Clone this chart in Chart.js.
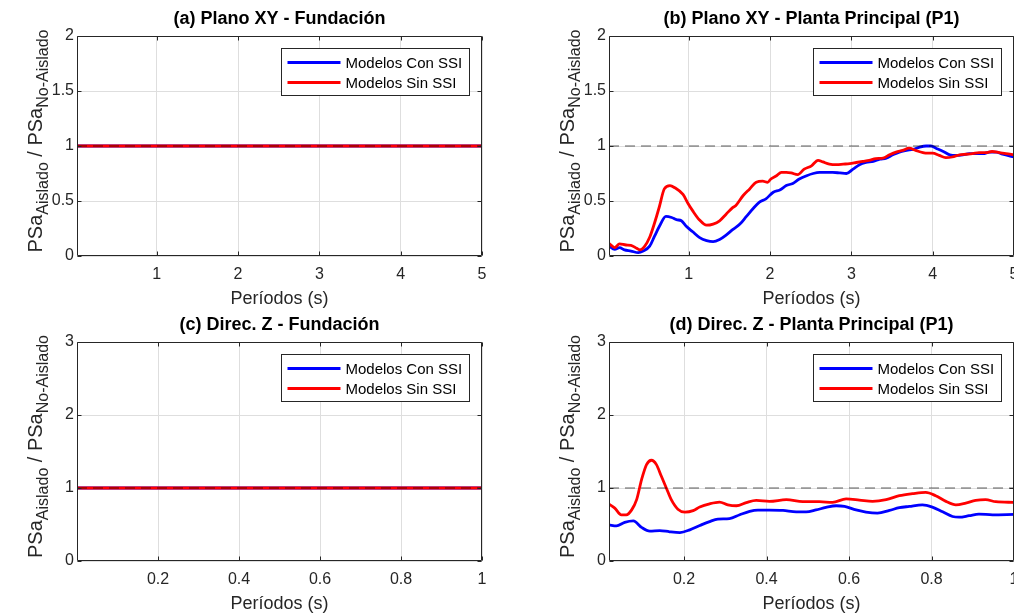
<!DOCTYPE html>
<html>
<head>
<meta charset="utf-8">
<script src="https://cdn.jsdelivr.net/npm/chart.js@4.4.0/dist/chart.umd.min.js"></script>
<style>
html,body{margin:0;padding:0;background:#fff;overflow:hidden;width:1014px;height:613px;position:relative;}
.p{position:absolute;}
canvas{display:block;}
</style>
</head>
<body>
<div class="p" style="left:0;top:0"><canvas id="ca" width="507" height="310"></canvas></div>
<div class="p" style="left:532px;top:0"><canvas id="cb" width="507" height="310"></canvas></div>
<div class="p" style="left:0;top:306px"><canvas id="cc" width="507" height="309"></canvas></div>
<div class="p" style="left:532px;top:306px"><canvas id="cd" width="507" height="309"></canvas></div>
<script>
// ---------------- DATA ----------------
const SERIES_LABELS = ['Modelos Con SSI', 'Modelos Sin SSI'];
const PANEL_TITLES = ['(a) Plano XY - Fundación', '(b) Plano XY - Planta Principal (P1)',
                      '(c) Direc. Z - Fundación', '(d) Direc. Z - Planta Principal (P1)'];
const X_TITLE = 'Períodos (s)';
const Y_TITLE_PARTS = ['PSa', 'Aislado', ' / ', 'PSa', 'No-Aislado'];
const X_TICKS_XY = [1, 2, 3, 4, 5];
const X_TICKS_Z = [0.2, 0.4, 0.6, 0.8, 1];
const Y_TICKS_XY = [0, 0.5, 1, 1.5, 2];
const Y_TICKS_Z = [0, 1, 2, 3];
const REF_RATIO = 1;

// (a) Plano XY - Fundación
const periodosA = [0.02, 5];
const conA = [1, 1];
const sinA = [1, 1];

// (b) Plano XY - Planta Principal (P1)
const periodosConB = [0.02,0.09,0.15,0.21,0.29,0.38,0.44,0.52,0.58,0.64,0.72,0.79,0.85,0.91,0.97,1.05,1.13,1.22,1.30,1.38,1.46,1.54,1.63,1.71,1.79,1.87,1.95,2.04,2.12,2.20,2.28,2.36,2.45,2.53,2.61,2.69,2.77,2.86,2.94,3.02,3.10,3.18,3.27,3.35,3.43,3.51,3.59,3.68,3.76,3.84,3.92,3.98,4.04,4.13,4.21,4.29,4.37,4.45,4.53,4.62,4.70,4.78,4.86,5.00];
const conB = [0.09,0.06,0.076,0.055,0.045,0.03,0.045,0.09,0.18,0.27,0.36,0.35,0.33,0.32,0.27,0.22,0.17,0.14,0.13,0.15,0.19,0.24,0.29,0.36,0.43,0.49,0.52,0.58,0.60,0.64,0.66,0.70,0.73,0.75,0.76,0.76,0.76,0.755,0.75,0.79,0.83,0.85,0.86,0.88,0.89,0.92,0.945,0.96,0.97,0.99,1.0,1.0,0.98,0.95,0.92,0.915,0.92,0.93,0.93,0.93,0.945,0.945,0.925,0.90];
const periodosSinB = [0.02,0.09,0.15,0.23,0.29,0.36,0.40,0.46,0.52,0.58,0.64,0.70,0.77,0.83,0.93,0.99,1.05,1.13,1.22,1.30,1.38,1.46,1.54,1.58,1.67,1.75,1.83,1.91,1.97,2.01,2.08,2.14,2.20,2.26,2.34,2.42,2.51,2.59,2.65,2.73,2.82,2.90,2.98,3.06,3.14,3.22,3.30,3.39,3.47,3.55,3.63,3.71,3.79,3.88,3.94,4.00,4.08,4.16,4.24,4.33,4.41,4.49,4.57,4.65,4.73,4.82,4.90,5.00];
const sinB = [0.115,0.076,0.11,0.10,0.097,0.07,0.055,0.09,0.17,0.30,0.45,0.61,0.64,0.62,0.56,0.48,0.41,0.33,0.28,0.29,0.32,0.38,0.44,0.46,0.55,0.61,0.67,0.68,0.67,0.70,0.73,0.76,0.76,0.755,0.74,0.79,0.82,0.87,0.855,0.835,0.83,0.835,0.84,0.85,0.86,0.87,0.885,0.89,0.92,0.945,0.96,0.98,0.96,0.94,0.935,0.935,0.915,0.895,0.90,0.92,0.925,0.93,0.94,0.94,0.95,0.94,0.93,0.92];

// (c) Direc. Z - Fundación
const periodosC = [0, 1];
const conC = [1, 1];
const sinC = [1, 1];

// (d) Direc. Z - Planta Principal (P1)
const periodosConD = [0.018,0.036,0.056,0.077,0.097,0.117,0.141,0.165,0.19,0.214,0.238,0.262,0.282,0.31,0.335,0.359,0.379,0.407,0.44,0.472,0.496,0.52,0.544,0.569,0.589,0.617,0.641,0.669,0.698,0.722,0.746,0.778,0.802,0.827,0.851,0.867,0.891,0.915,0.948,1.0];
const conD = [0.495,0.48,0.53,0.55,0.46,0.41,0.417,0.40,0.39,0.427,0.486,0.54,0.573,0.58,0.633,0.68,0.697,0.697,0.693,0.674,0.674,0.70,0.734,0.757,0.748,0.70,0.67,0.656,0.693,0.73,0.748,0.77,0.739,0.674,0.61,0.60,0.62,0.642,0.633,0.638];
const periodosSinD = [0.018,0.032,0.048,0.06,0.073,0.085,0.097,0.109,0.121,0.133,0.145,0.157,0.169,0.185,0.202,0.222,0.238,0.262,0.286,0.306,0.327,0.351,0.375,0.407,0.448,0.488,0.528,0.56,0.593,0.625,0.657,0.69,0.722,0.754,0.786,0.81,0.835,0.859,0.883,0.907,0.931,0.956,1.0];
const sinD = [0.78,0.725,0.633,0.633,0.70,0.84,1.115,1.32,1.38,1.32,1.16,1.0,0.84,0.71,0.67,0.69,0.74,0.784,0.807,0.77,0.757,0.80,0.83,0.817,0.84,0.812,0.812,0.803,0.85,0.835,0.817,0.84,0.894,0.922,0.94,0.894,0.817,0.77,0.794,0.83,0.84,0.812,0.803];

// ---------------- RENDERING ----------------
const FONT = "'Liberation Sans', Arial, Helvetica, sans-serif";
Chart.defaults.font.family = FONT;
const AX = '#262626';

function pts(xs, ys) { return xs.map((x, i) => ({ x: x, y: ys[i] })); }
function fmt(v) { return String(+Number(v).toFixed(2)); }

const decorPlugin = {
  id: 'decor',
  afterDraw(chart) {
    const ctx = chart.ctx, a = chart.chartArea, sx = chart.scales.x, sy = chart.scales.y;
    const L = Math.round(a.left) + 0.5, R = Math.round(a.right) - 0.5;
    const T = Math.round(a.top) + 0.5, B = Math.round(a.bottom) - 0.5;
    ctx.save();
    // box + inward ticks
    ctx.strokeStyle = AX; ctx.lineWidth = 1;
    ctx.beginPath();
    ctx.rect(L, T, R - L, B - T);
    sx.ticks.forEach(t => {
      const px = Math.round(sx.getPixelForValue(t.value)) + 0.5;
      ctx.moveTo(px, B); ctx.lineTo(px, B - 4);
      ctx.moveTo(px, T); ctx.lineTo(px, T + 4);
    });
    sy.ticks.forEach(t => {
      const py = Math.round(sy.getPixelForValue(t.value)) + 0.5;
      ctx.moveTo(L, py); ctx.lineTo(L + 4, py);
      ctx.moveTo(R, py); ctx.lineTo(R - 4, py);
    });
    ctx.stroke();

    // legend
    const W = 188, H = 47;
    const bx = Math.round(a.right - 13 - W) + 0.5, by = Math.round(a.top + 12) + 0.5;
    ctx.fillStyle = '#fff';
    ctx.fillRect(bx, by, W, H);
    ctx.strokeStyle = AX; ctx.lineWidth = 1;
    ctx.strokeRect(bx, by, W, H);
    const items = chart.data.datasets.filter(d => d.label);
    items.forEach((d, i) => {
      const yy = by + 14 + i * 20;
      ctx.strokeStyle = d.borderColor; ctx.lineWidth = 2.8; ctx.setLineDash([]);
      ctx.beginPath(); ctx.moveTo(bx + 6, yy); ctx.lineTo(bx + 59, yy); ctx.stroke();
      ctx.fillStyle = '#000'; ctx.font = '15px ' + FONT;
      ctx.textAlign = 'left'; ctx.textBaseline = 'middle';
      ctx.fillText(d.label, bx + 64, yy + 1);
    });

    // y-axis title with subscripts
    const sizes = [20, 16, 20, 20, 16], offs = [0, 6, 0, 0, 6];
    let total = 0;
    const widths = Y_TITLE_PARTS.map((s, i) => { ctx.font = sizes[i] + 'px ' + FONT; const w = ctx.measureText(s).width; total += w; return w; });
    ctx.translate(a.left - 35, (a.top + a.bottom) / 2 - 5);
    ctx.rotate(-Math.PI / 2);
    ctx.fillStyle = AX; ctx.textAlign = 'left'; ctx.textBaseline = 'alphabetic';
    let xx = -total / 2;
    Y_TITLE_PARTS.forEach((s, i) => {
      ctx.font = sizes[i] + 'px ' + FONT;
      ctx.fillText(s, xx, offs[i]);
      xx += widths[i];
    });
    ctx.restore();
  }
};

function makeChart(id, o) {
  const datasets = [
    { label: SERIES_LABELS[0], data: pts(o.xc, o.yc), borderColor: '#0000ff', borderWidth: 2.8, order: 3 },
    { label: SERIES_LABELS[1], data: pts(o.xs, o.ys), borderColor: '#ff0000', borderWidth: 2.8, order: 2 },
    { label: '', data: pts([o.xmin, o.xmax], [REF_RATIO, REF_RATIO]), borderColor: 'rgba(0,0,0,0.42)', borderWidth: 1.5, borderDash: [10, 6], order: 1 }
  ];
  return new Chart(document.getElementById(id), {
    type: 'line',
    data: { datasets: datasets },
    plugins: [decorPlugin],
    options: {
      responsive: false, animation: false, devicePixelRatio: 1,
      elements: { point: { radius: 0 }, line: { cubicInterpolationMode: 'monotone', fill: false } },
      layout: { padding: { left: 0, right: 25, top: 0, bottom: 0 } },
      plugins: {
        legend: { display: false }, tooltip: { enabled: false },
        title: { display: true, text: o.title, fullSize: false, color: '#000',
                 font: { family: FONT, size: 18, weight: 'bold' }, padding: { top: 8, bottom: 6.4 } }
      },
      scales: {
        x: {
          type: 'linear', min: o.xmin, max: o.xmax,
          afterBuildTicks: s => { s.ticks = o.xt.map(v => ({ value: v })); },
          afterFit: s => { s.height = 54; },
          ticks: { callback: v => fmt(v), color: AX, font: { size: 16 }, padding: 9, maxRotation: 0, autoSkip: false },
          grid: { color: '#dedede', lineWidth: 1, drawTicks: false },
          border: { display: false },
          title: { display: true, text: X_TITLE, color: AX, font: { size: 18 }, padding: 0 }
        },
        y: {
          type: 'linear', min: o.ymin, max: o.ymax,
          afterBuildTicks: s => { s.ticks = o.yt.map(v => ({ value: v })); },
          afterFit: s => { s.width = 77; },
          ticks: { callback: v => fmt(v), color: AX, font: { size: 16 }, padding: 3, autoSkip: false },
          grid: { color: '#dedede', lineWidth: 1, drawTicks: false },
          border: { display: false }
        }
      }
    }
  });
}

makeChart('ca', { title: PANEL_TITLES[0], xc: periodosA, yc: conA, xs: periodosA, ys: sinA,
  xmin: 0.02, xmax: 5, xt: X_TICKS_XY, ymin: 0, ymax: 2, yt: Y_TICKS_XY });
makeChart('cb', { title: PANEL_TITLES[1], xc: periodosConB, yc: conB, xs: periodosSinB, ys: sinB,
  xmin: 0.02, xmax: 5, xt: X_TICKS_XY, ymin: 0, ymax: 2, yt: Y_TICKS_XY });
makeChart('cc', { title: PANEL_TITLES[2], xc: periodosC, yc: conC, xs: periodosC, ys: sinC,
  xmin: 0, xmax: 1, xt: X_TICKS_Z, ymin: 0, ymax: 3, yt: Y_TICKS_Z });
makeChart('cd', { title: PANEL_TITLES[3], xc: periodosConD, yc: conD, xs: periodosSinD, ys: sinD,
  xmin: 0.018, xmax: 1, xt: X_TICKS_Z, ymin: 0, ymax: 3, yt: Y_TICKS_Z });
</script>
</body>
</html>
